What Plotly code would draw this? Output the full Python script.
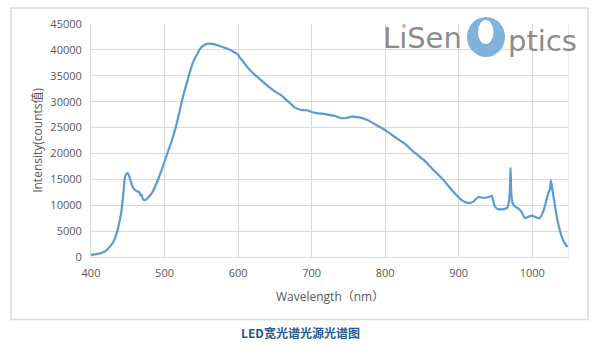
import plotly.graph_objects as go

# Spectrum of the broadband LED source
wavelength = [
    400, 408, 414, 420, 426, 431, 435, 438, 441, 444, 446, 448, 450, 452, 455,
    458, 461, 464, 466, 467, 469, 470, 472, 475, 479, 483, 489, 496, 503, 510,
    517, 525, 532, 538, 544, 550, 556, 561, 567, 574, 584, 592, 598, 600, 603,
    607, 616, 630, 643, 652, 658, 666, 677, 686, 695, 700, 707, 718, 730, 741,
    748, 755, 763, 775, 788, 800, 815, 829, 838, 852, 865, 879, 892, 904, 913,
    920, 927, 934, 941, 945, 949, 954, 963, 966, 968, 969.5, 970.5, 971.5, 973,
    976, 981, 985, 990, 995, 999, 1006, 1010, 1015, 1019, 1022, 1024, 1025.5,
    1027.5, 1031, 1035, 1040, 1044, 1048,
]
intensity = [
    400, 550, 770, 1200, 2050, 3100, 4600, 6300, 8500, 12300, 15300, 16000,
    16200, 15600, 14200, 13200, 12800, 12600, 12500, 11900, 12000, 11400, 11000,
    11100, 11700, 12400, 14200, 16800, 19700, 22500, 26000, 30900, 34500, 37300,
    39100, 40500, 41100, 41200, 41100, 40800, 40300, 39800, 39300, 39000, 38400,
    37700, 36100, 34300, 32700, 31800, 31300, 30300, 28900, 28400, 28300, 28000,
    27800, 27600, 27300, 26800, 26900, 27100, 27000, 26500, 25500, 24500, 23000,
    21600, 20400, 18800, 16900, 14900, 12700, 11000, 10400, 10700, 11600, 11400,
    11600, 11800, 9800, 9200, 9300, 9500, 10500, 12500, 17200, 12500, 10500,
    9800, 9400, 8800, 7500, 7800, 8000, 7600, 7500, 8800, 10800, 12400, 13000,
    14800, 13000, 9800, 6600, 4000, 2700, 1900,
]

x_ticks = [400, 500, 600, 700, 800, 900, 1000]
y_ticks = [0, 5000, 10000, 15000, 20000, 25000, 30000, 35000, 40000, 45000]

chart_title = "LED宽光谱光源光谱图"
x_title = "Wavelength（nm）"
y_title = "Intensity(counts值)"

W, H = 601, 347
L, R, T, B = 91, 569, 24, 257.3

def px(x):
    return (x - L) / (R - L)

def py(y):
    return (B - y) / (B - T)

grid = "#d9d9d9"
tick_font = dict(family="Open Sans", size=11, color="#595959")

fig = go.Figure()
fig.add_trace(go.Scatter(
    x=wavelength, y=intensity, mode="lines",
    line=dict(color="#5b9bd5", width=2.2, shape="spline", smoothing=0.5),
    hoverinfo="x+y", showlegend=False,
))

shapes = [
    # outer chart frame
    dict(type="rect", xref="paper", yref="paper",
         x0=px(11), x1=px(588), y0=py(320), y1=py(8),
         line=dict(color="#d9d9d9", width=1.5), layer="below"),
    # right border of the plot area
    dict(type="line", xref="x", yref="paper", x0=1050, x1=1050, y0=0, y1=1,
         line=dict(color=grid, width=1), layer="below"),
    # logo mark: blue disc with offset hole
    dict(type="circle", xref="paper", yref="paper",
         x0=px(467), x1=px(505), y0=py(57), y1=py(17),
         fillcolor="#7fb2dd", line=dict(width=0)),
    dict(type="circle", xref="paper", yref="paper",
         x0=px(478), x1=px(493.5), y0=py(44), y1=py(20),
         fillcolor="white", line=dict(width=0)),
    # orange dot over the i
    dict(type="circle", xref="paper", yref="paper",
         x0=px(402), x1=px(406), y0=py(28), y1=py(24),
         fillcolor="#f4a582", line=dict(width=0)),
]

logo_font = dict(family="DejaVu Sans ExtraLight, DejaVu Sans", size=29, color="#8c8c8c")
annotations = [
    dict(text=chart_title, xref="paper", yref="paper", x=px(300), y=py(333),
         xanchor="center", yanchor="middle", showarrow=False,
         font=dict(family="Noto Sans CJK SC", size=12, color="#245a8d", weight="bold")),
    dict(text=x_title, xref="paper", yref="paper", x=px(330), y=py(297),
         xanchor="center", yanchor="middle", showarrow=False,
         font=dict(family="Open Sans, Noto Sans CJK SC", size=12, color="#595959")),
    dict(text=y_title, xref="paper", yref="paper", x=px(38), y=py(141),
         xanchor="center", yanchor="middle", showarrow=False, textangle=-90,
         font=dict(family="Open Sans, Noto Sans CJK SC", size=12, color="#595959")),
    dict(text="L\u0131Sen", xref="paper", yref="paper", x=px(381), y=py(38),
         xanchor="left", yanchor="middle", showarrow=False, font=logo_font),
    dict(text="ptics", xref="paper", yref="paper", x=px(506), y=py(41),
         xanchor="left", yanchor="middle", showarrow=False, font=logo_font),
]

fig.update_layout(
    width=W, height=H,
    margin=dict(l=L, r=W - R, t=T, b=H - B),
    paper_bgcolor="white", plot_bgcolor="white",
    shapes=shapes, annotations=annotations,
    xaxis=dict(range=[400, 1050], tickvals=x_ticks, showgrid=True, gridcolor=grid,
               gridwidth=1, zeroline=False, showline=True, linecolor=grid,
               linewidth=1, ticks="", tickfont=tick_font, ticklabelstandoff=6),
    yaxis=dict(range=[0, 45000], tickvals=y_ticks, showgrid=True, gridcolor=grid,
               gridwidth=1, zeroline=False, showline=True, linecolor=grid,
               linewidth=1, ticks="", tickfont=tick_font, ticklabelstandoff=6,
               tickformat="d"),
)

fig.write_html("out.html")
